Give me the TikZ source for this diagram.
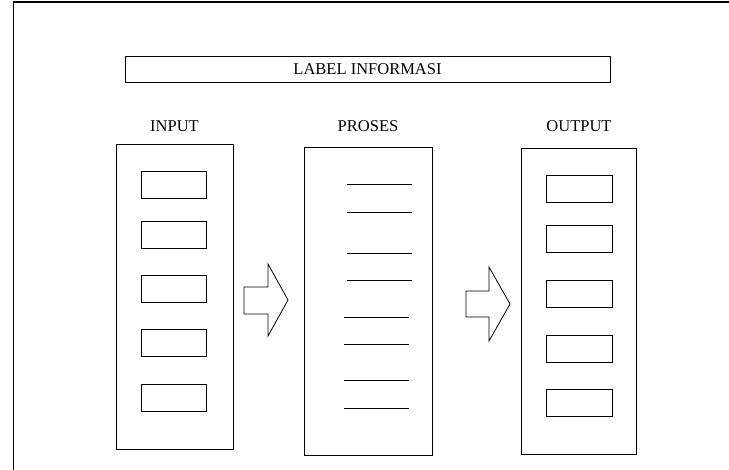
\documentclass[tikz,border=0pt]{standalone}
\usepackage{fontspec}
\setmainfont{Liberation Serif}
\begin{document}
\begin{tikzpicture}[x=1pt,y=-1pt,line join=miter,font=\fontsize{16.5}{18}\selectfont,
	box/.style={draw,line width=0.8pt,inner sep=0pt},
	slot/.style={draw,line width=0.8pt,inner sep=0pt,minimum width=65pt,minimum height=27pt},
	title/.style={inner sep=0pt}]
			\useasboundingbox (0,0) rectangle (729,470);
			
			\draw[line width=1.6pt] (13,2)--(729,2);
			\draw[line width=1pt] (13,2)--(13,470);
			
			\node[box,minimum width=485pt,minimum height=26pt] (label) at (367.5,69) {LABEL INFORMASI};
			
			% input
			\node[title] (intitle) at (174.5,126) {INPUT};
			\node[box,minimum width=117pt,minimum height=305pt] (inbox) at (174.5,296.5) {};
			\foreach \y [count=\i] in {184.5,234.5,288.5,342.5,397.5}
				\node[slot] (in\i) at (173.5,\y) {};
			
			% proses
			\node[title] (prtitle) at (368,126) {PROSES};
			\node[box,minimum width=128pt,minimum height=308pt] (prbox) at (368,301) {};
			\foreach \y in {184,212,253,280}
				\draw[line width=0.8pt] (347,\y)--(412,\y);
			\foreach \y in {317,344,380,408}
				\draw[line width=0.8pt] (344,\y)--(409,\y);
			
			% output
			\node[title] (outtitle) at (579,126) {OUTPUT};
			\node[box,minimum width=115pt,minimum height=306pt] (outbox) at (578.5,301) {};
			\foreach \y [count=\i] in {188.5,238.5,293.5,348.5,403}
				\node[slot,minimum width=66pt] (out\i) at (579,\y) {};
			
			% panah
			\draw[line width=0.8pt] (244,287)--(268,287)--(268,264)--(288,300)--(268,336)--(268,314)--(244,314)--cycle;
			\draw[line width=0.8pt] (466,291)--(489,291)--(489,267)--(510,304)--(489,341)--(489,317)--(466,317)--cycle;
		\end{tikzpicture}
\end{document}
